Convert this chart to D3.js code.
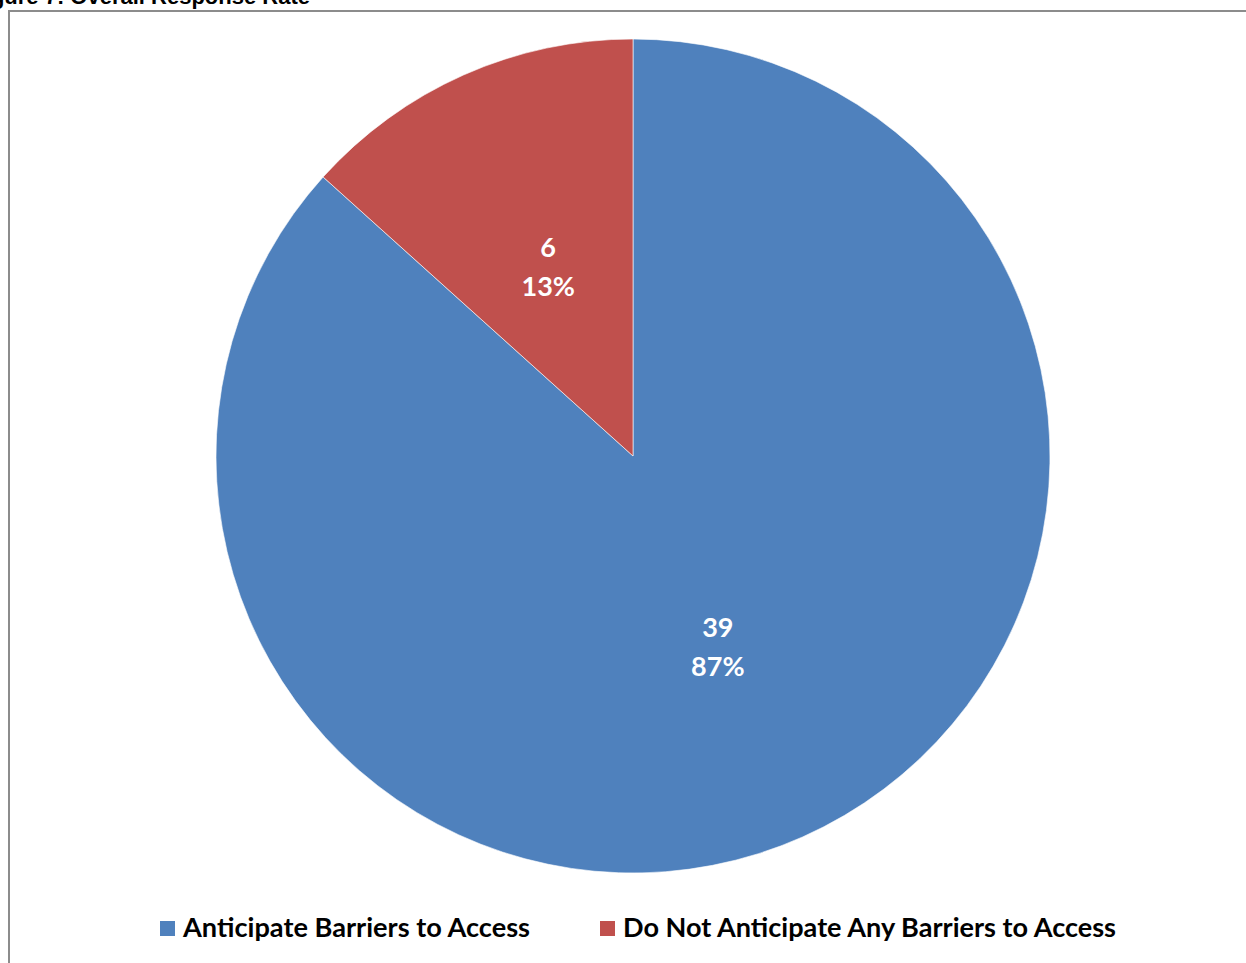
<!DOCTYPE html>
<html lang="en">
    <head>
        <meta charset="utf-8">
        <title>Overall Response Rate</title>
        <script type="text/javascript" src="https://cdn.jsdelivr.net/npm/d3@7"></script>
        <style>
            body { margin: 0; background: #fff; }
        </style>
    </head>
    <body>
        <script type="text/javascript">
            // data
            var categories = ["Anticipate Barriers to Access", "Do Not Anticipate Any Barriers to Access"];
            var counts = [39, 6];
            var percentLabels = ["87%", "13%"];
            var colors = ["#4F81BD", "#C0504D"];

            var svgWidth = 1246;
            var svgHeight = 963;

            var svg = d3.select("body")
                        .append("svg")
                        .attr("width", svgWidth)
                        .attr("height", svgHeight);

            // title, mostly cut off at the top of the page
            svg.append("text")
                .attr("x", 310)
                .attr("y", 4)
                .attr("text-anchor", "end")
                .attr("font-family", "Liberation Sans, Arial, sans-serif")
                .attr("font-size", "22px")
                .attr("font-weight", "bold")
                .attr("fill", "#000")
                .text("Figure 7: Overall Response Rate");

            // chart frame
            svg.append("rect")
                .attr("x", 9)
                .attr("y", 11)
                .attr("width", svgWidth + 20)
                .attr("height", svgHeight + 20)
                .attr("fill", "none")
                .attr("stroke", "#8c8c8c")
                .attr("stroke-width", 2);

            var cx = 633, cy = 456, radius = 417;

            var data = categories.map(function(c, i) {
                return { name: c, value: counts[i], pct: percentLabels[i], color: colors[i] };
            });

            var pie = d3.pie()
                        .sort(null)
                        .value(function(d) { return d.value; });

            var arc = d3.arc().innerRadius(0).outerRadius(radius);
            var labelArc = d3.arc().innerRadius(radius * 0.5).outerRadius(radius * 0.5);

            var g = svg.append("g")
                        .attr("transform", "translate(" + cx + "," + cy + ")");

            var arcs = pie(data);

            g.selectAll("path")
                .data(arcs)
                .enter()
                .append("path")
                .attr("d", arc)
                .attr("fill", function(d) { return d.data.color; })
                .attr("stroke", "#ffffff")
                .attr("stroke-width", 0.6);

            var labels = g.selectAll("text.lbl")
                .data(arcs)
                .enter()
                .append("text")
                .attr("class", "lbl")
                .attr("transform", function(d) {
                    var c = labelArc.centroid(d);
                    return "translate(" + c[0] + "," + c[1] + ")";
                })
                .attr("text-anchor", "middle")
                .attr("font-family", "Lato, 'Open Sans', sans-serif")
                .attr("font-size", "27px")
                .attr("font-weight", "bold")
                .attr("fill", "#ffffff");

            labels.append("tspan")
                .attr("x", 0)
                .attr("y", -9)
                .text(function(d) { return d.data.value; });
            labels.append("tspan")
                .attr("x", 0)
                .attr("y", 30)
                .text(function(d) { return d.data.pct; });

            // legend
            var legendX = [160, 600];
            var legendTextLen = [347, 493];
            var legend = svg.selectAll("g.legend")
                .data(data)
                .enter()
                .append("g")
                .attr("class", "legend")
                .attr("transform", function(d, i) { return "translate(" + legendX[i] + ",921)"; });

            legend.append("rect")
                .attr("width", 15)
                .attr("height", 15)
                .attr("fill", function(d) { return d.color; });

            legend.append("text")
                .attr("x", 23)
                .attr("y", 16)
                .attr("font-family", "Lato, 'Open Sans', sans-serif")
                .attr("font-size", "26px")
                .attr("font-weight", "bold")
                .attr("fill", "#000")
                .attr("textLength", function(d, i) { return legendTextLen[i]; })
                .attr("lengthAdjust", "spacingAndGlyphs")
                .text(function(d) { return d.name; });
        </script>
    </body>
</html>
